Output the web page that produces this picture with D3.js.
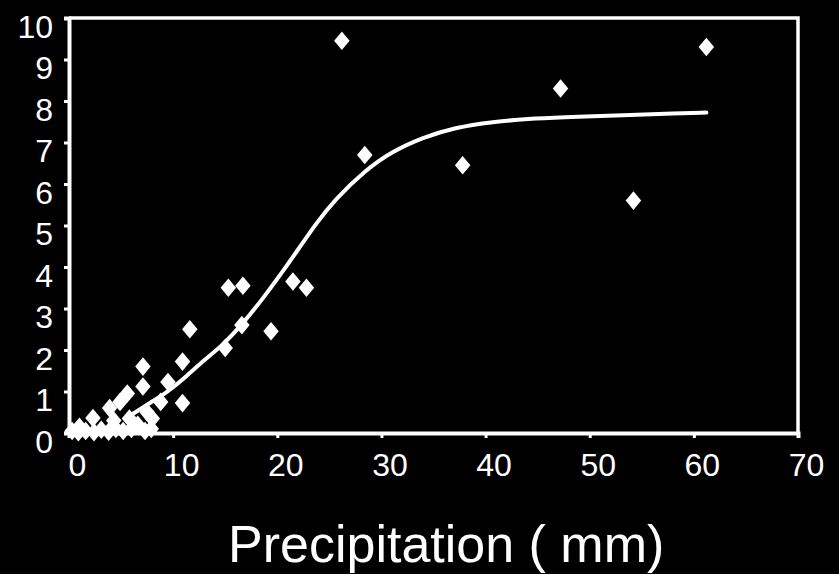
<!DOCTYPE html>
<html><head><meta charset="utf-8">
<script src="https://cdn.jsdelivr.net/npm/d3@7"></script>
<style>
html,body{margin:0;padding:0;background:#000;}
svg{display:block;}
</style></head>
<body>
<script>
// Observed data points (precipitation mm, response)
const pointsX = [26.2, 61.2, 47.2, 28.4, 37.8, 54.2, 21.5, 22.8, 15.3, 16.7, 16.6, 19.4, 15.0, 11.6, 10.9, 9.5, 7.1, 7.1, 10.9, 8.8, 5.6, 4.9, 3.9, 2.3, 1.0,
  0.3, 0.9, 1.6, 2.4, 3.1, 3.8, 4.5, 5.2, 6.0, 6.6, 7.3, 7.9, 5.8, 4.3, 8.0, 7.5];
const pointsY = [9.45, 9.3, 8.3, 6.7, 6.45, 5.6, 3.65, 3.5, 3.5, 3.55, 2.6, 2.45, 2.05, 2.5, 1.72, 1.23, 1.6, 1.12, 0.72, 0.75, 0.95, 0.75, 0.6, 0.36, 0.15,
  0.05, 0.02, 0.05, 0.02, 0.08, 0.03, 0.1, 0.05, 0.1, 0.2, 0.05, 0.1, 0.35, 0.3, 0.35, 0.5];
// Fitted curve
const curveX = [5.5, 6.1, 7, 8, 9.4, 11, 12.5, 14.8, 16.7, 18.5, 20.6, 22, 23.7, 25.5, 28.5, 31, 34, 37, 40.8, 44, 47.7, 51, 54.6, 58, 61.2];
const curveY = [0.35, 0.46, 0.6, 0.76, 0.98, 1.3, 1.66, 2.12, 2.64, 3.2, 3.92, 4.42, 5.04, 5.62, 6.34, 6.78, 7.12, 7.36, 7.5, 7.57, 7.61, 7.64, 7.67, 7.7, 7.72];
const xTicks = [0, 10, 20, 30, 40, 50, 60, 70];
const yTicks = [0, 1, 2, 3, 4, 5, 6, 7, 8, 9, 10];
const xTitle = "Precipitation ( mm)";

const W = 839, H = 574;
const svg = d3.select("body").append("svg").attr("width", W).attr("height", H);
svg.append("rect").attr("width", W).attr("height", H).attr("fill", "#000");

const x = d3.scaleLinear().domain([0, 70]).range([69, 798]);
const y = d3.scaleLinear().domain([0, 10]).range([433, 18]);
const font = "'Liberation Sans', Arial, Helvetica, sans-serif";

// frame (top and right)
svg.append("path")
  .attr("d", `M${x(0)},${y(10)}H${x(70)}V${y(0)}`)
  .attr("fill", "none").attr("stroke", "#fff").attr("stroke-width", 3.5);

// axes
const yAxis = svg.append("g").attr("transform", `translate(${x(0)},0)`)
  .call(d3.axisLeft(y).tickValues(yTicks).tickSize(5).tickPadding(11).tickFormat(d3.format("d")));
const xAxis = svg.append("g").attr("transform", `translate(0,${y(0)})`)
  .call(d3.axisBottom(x).tickValues(xTicks).tickSize(5).tickPadding(11).tickFormat(d3.format("d")));
[yAxis, xAxis].forEach(g => {
  g.select(".domain").attr("stroke", "#fff").attr("stroke-width", 4);
  g.selectAll(".tick line").attr("stroke", "#fff").attr("stroke-width", 3);
  g.selectAll("text").attr("fill", "#fff").attr("font-family", font).attr("font-size", 32);
});
yAxis.selectAll("text").attr("dy", "0.6em");
xAxis.selectAll("text").attr("dx", 8).attr("dy", "0.85em");

// fitted curve
const line = d3.line().x((d, i) => x(curveX[i])).y((d, i) => y(curveY[i])).curve(d3.curveBasis);
svg.append("path").datum(curveY).attr("d", line)
  .attr("fill", "none").attr("stroke", "#fff").attr("stroke-width", 4).attr("stroke-linecap", "round");

// diamonds
const sym = d3.symbol().type(d3.symbolSquare).size(120);
svg.append("g").selectAll("path").data(pointsY).join("path")
  .attr("d", sym)
  .attr("transform", (d, i) => `translate(${x(pointsX[i])},${y(d)}) scale(1,1.2) rotate(45)`)
  .attr("fill", "#fff");

// axis title
svg.append("text").attr("x", 228).attr("y", 562)
  .attr("fill", "#fff").attr("font-family", font).attr("font-size", 52)
  .text(xTitle);
</script>
</body></html>
